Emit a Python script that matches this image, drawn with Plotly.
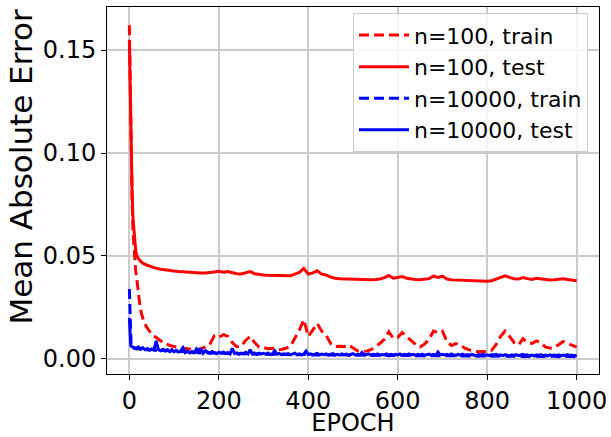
import plotly.graph_objects as go

# ---------------- data ----------------
red_train_epochs = [0, 2, 4, 6, 8, 10, 12, 14, 16, 18, 20, 23, 27, 32, 38, 45, 55, 65, 75, 90] + list(range(100, 1001, 10))
red_train = [
    0.162, 0.125, 0.098, 0.078, 0.062, 0.054, 0.047, 0.043, 0.040, 0.036,
    0.031, 0.027, 0.022, 0.0185, 0.0157, 0.0135, 0.0112, 0.0095, 0.0080, 0.0066,
    0.0060, 0.0055, 0.0052, 0.0049, 0.0046, 0.0045, 0.0050, 0.0058, 0.0072, 0.0112,
    0.0105, 0.0118, 0.0110, 0.0080, 0.0060, 0.0062, 0.0090, 0.0110, 0.0080, 0.0058,
    0.0055, 0.0050, 0.0052, 0.0044, 0.0046, 0.0052, 0.0062, 0.0100, 0.0140, 0.0190,
    0.0110, 0.0140, 0.0172, 0.0135, 0.0115, 0.0075, 0.0060, 0.0062, 0.0060, 0.0068,
    0.0055, 0.0040, 0.0036, 0.0038, 0.0045, 0.0058, 0.0075, 0.0095, 0.0132, 0.0100,
    0.0105, 0.0128, 0.0110, 0.0090, 0.0070, 0.0058, 0.0072, 0.0095, 0.0135, 0.0128,
    0.0135, 0.0085, 0.0065, 0.0075, 0.0068, 0.0052, 0.0044, 0.0040, 0.0035, 0.0036,
    0.0035, 0.0042, 0.0070, 0.0110, 0.0135, 0.0110, 0.0080, 0.0068, 0.0098, 0.0080,
    0.0075, 0.0088, 0.0080, 0.0058, 0.0052, 0.0055, 0.0068, 0.0085, 0.0075, 0.0065,
    0.0057,
]

red_test_epochs = [0, 2, 4, 6, 8, 10, 12, 14, 16, 18, 20, 25, 30] + list(range(40, 1001, 10))
red_test = [
    0.155, 0.125, 0.098, 0.082, 0.069, 0.062, 0.057, 0.053, 0.0505, 0.0495, 0.0488,
    0.0475, 0.0465,
    0.0455, 0.0446, 0.0440, 0.0436, 0.0432, 0.0429, 0.0427, 0.0425, 0.0423, 0.0421,
    0.0420, 0.0419, 0.0418, 0.0418, 0.0419, 0.0422, 0.0426, 0.0421, 0.0424, 0.0418,
    0.0414, 0.0413, 0.0418, 0.0424, 0.0414, 0.0410, 0.0408, 0.0406, 0.0405, 0.0404,
    0.0404, 0.0403, 0.0404, 0.0412, 0.0420, 0.0440, 0.0412, 0.0418, 0.0428, 0.0412,
    0.0408, 0.0398, 0.0392, 0.0390, 0.0389, 0.0390, 0.0387, 0.0386, 0.0385, 0.0385,
    0.0385, 0.0386, 0.0388, 0.0395, 0.0405, 0.0392, 0.0396, 0.0400, 0.0392, 0.0388,
    0.0386, 0.0385, 0.0386, 0.0390, 0.0402, 0.0396, 0.0402, 0.0388, 0.0384, 0.0383,
    0.0381, 0.0380, 0.0379, 0.0378, 0.0377, 0.0377, 0.0377, 0.0380, 0.0388, 0.0398,
    0.0404, 0.0396, 0.0390, 0.0388, 0.0395, 0.0390, 0.0386, 0.0392, 0.0390, 0.0385,
    0.0384, 0.0385, 0.0388, 0.0390, 0.0386, 0.0382, 0.0380,
]

blue_train_epochs = [0, 1, 2, 3, 4, 5] + list(range(10, 1001, 10))
blue_train = [
    0.0340, 0.0220, 0.0120, 0.0080, 0.0062, 0.0056,
    0.0052, 0.0048, 0.0055, 0.0044, 0.0046, 0.0042, 0.0040, 0.0043, 0.0037, 0.0039,
    0.0035, 0.0037, 0.0033, 0.0031, 0.0034, 0.0029, 0.0032, 0.0028, 0.0030, 0.0027,
    0.0029, 0.0026, 0.0028, 0.0025, 0.0027, 0.0024, 0.0026, 0.0023, 0.0025, 0.0023,
    0.0024, 0.0022, 0.0024, 0.0021, 0.0023, 0.0021, 0.0022, 0.0020, 0.0022, 0.0020,
    0.0021, 0.0019, 0.0021, 0.0019, 0.0020, 0.0018, 0.0020, 0.0018, 0.0019, 0.0018,
    0.0019, 0.0017, 0.0019, 0.0017, 0.0018, 0.0017, 0.0018, 0.0016, 0.0018, 0.0016,
    0.0017, 0.0016, 0.0017, 0.0015, 0.0017, 0.0015, 0.0016, 0.0015, 0.0016, 0.0015,
    0.0016, 0.0014, 0.0016, 0.0014, 0.0015, 0.0014, 0.0015, 0.0013, 0.0015, 0.0013,
    0.0014, 0.0013, 0.0014, 0.0013, 0.0014, 0.0012, 0.0014, 0.0012, 0.0013, 0.0012,
    0.0013, 0.0012, 0.0013, 0.0011, 0.0013, 0.0011, 0.0012, 0.0011, 0.0012, 0.0011,
]

blue_test_epochs = [0, 1, 2, 3, 4] + list(range(5, 1001, 5))
blue_test = [
    0.0200, 0.0120, 0.0085, 0.0070, 0.0064,
    0.0060, 0.0056, 0.0050, 0.0058, 0.0047, 0.0054, 0.0045, 0.0051, 0.0043, 0.0049,
    0.0044, 0.0088, 0.0045, 0.0040, 0.0047, 0.0038, 0.0045, 0.0036, 0.0046, 0.0035,
    0.0042, 0.0034, 0.0040, 0.0055, 0.0031, 0.0038, 0.0029, 0.0036, 0.0030, 0.0048,
    0.0033, 0.0052, 0.0028, 0.0040, 0.0032, 0.0027, 0.0036, 0.0030, 0.0025, 0.0033,
    0.0028, 0.0034, 0.0026, 0.0031, 0.0024, 0.0052, 0.0027, 0.0030, 0.0023, 0.0029,
    0.0026, 0.0032, 0.0024, 0.0045, 0.0025, 0.0029, 0.0022, 0.0028, 0.0024, 0.0027,
    0.0023, 0.0029, 0.0021, 0.0026, 0.0040, 0.0023, 0.0027, 0.0021, 0.0025, 0.0022,
    0.0026, 0.0020, 0.0024, 0.0028, 0.0021, 0.0025, 0.0020, 0.0024, 0.0038, 0.0022,
    0.0025, 0.0020, 0.0023, 0.0027, 0.0020, 0.0024, 0.0021, 0.0025, 0.0019, 0.0023,
    0.0026, 0.0020, 0.0023, 0.0019, 0.0025, 0.0021, 0.0024, 0.0018, 0.0022, 0.0026,
    0.0019, 0.0023, 0.0020, 0.0031, 0.0018, 0.0022, 0.0025, 0.0019, 0.0023, 0.0020,
    0.0024, 0.0018, 0.0022, 0.0020, 0.0025, 0.0019, 0.0022, 0.0018, 0.0023, 0.0020,
    0.0024, 0.0018, 0.0022, 0.0019, 0.0025, 0.0020, 0.0023, 0.0018, 0.0022, 0.0019,
    0.0023, 0.0018, 0.0021, 0.0024, 0.0019, 0.0022, 0.0018, 0.0034, 0.0021, 0.0023,
    0.0019, 0.0022, 0.0018, 0.0024, 0.0020, 0.0017, 0.0022, 0.0019, 0.0023, 0.0018,
    0.0021, 0.0017, 0.0022, 0.0019, 0.0016, 0.0021, 0.0018, 0.0022, 0.0017, 0.0020,
    0.0016, 0.0021, 0.0018, 0.0022, 0.0017, 0.0020, 0.0016, 0.0021, 0.0018, 0.0015,
    0.0020, 0.0017, 0.0021, 0.0016, 0.0019, 0.0022, 0.0017, 0.0020, 0.0016, 0.0019,
    0.0015, 0.0020, 0.0017, 0.0021, 0.0016, 0.0019, 0.0015, 0.0020, 0.0017, 0.0019,
    0.0016, 0.0020, 0.0015, 0.0019, 0.0017, 0.0021, 0.0016, 0.0019, 0.0015, 0.0018,
]

x_ticks = [0, 200, 400, 600, 800, 1000]
y_ticks = [0.00, 0.05, 0.10, 0.15]
y_tick_labels = ["0.00", "0.05", "0.10", "0.15"]

series_names = ["n=100, train", "n=100, test", "n=10000, train", "n=10000, test"]
x_title = "EPOCH"
y_title = "Mean Absolute Error"

# ---------------- figure ----------------
FONT = "DejaVu Sans"
RED = "#ff0000"
BLUE = "#0000ff"
DASH = "10px,5px"
LW = 3

fig = go.Figure()
fig.add_trace(go.Scatter(x=red_train_epochs, y=red_train, mode="lines", name=series_names[0],
                         line=dict(color=RED, width=LW, dash=DASH)))
fig.add_trace(go.Scatter(x=red_test_epochs, y=red_test, mode="lines", name=series_names[1],
                         line=dict(color=RED, width=LW)))
fig.add_trace(go.Scatter(x=blue_train_epochs, y=blue_train, mode="lines", name=series_names[2],
                         line=dict(color=BLUE, width=LW, dash=DASH)))
fig.add_trace(go.Scatter(x=blue_test_epochs, y=blue_test, mode="lines", name=series_names[3],
                         line=dict(color=BLUE, width=LW)))

axis_common = dict(
    showline=True, mirror=True, linecolor="black", linewidth=1,
    ticks="outside", ticklen=5, tickwidth=1, tickcolor="black",
    showgrid=True, gridcolor="#cbcbcb", gridwidth=1.5,
    zeroline=False, automargin=False,
    tickfont=dict(family=FONT, size=24, color="black"),
)

fig.update_layout(
    width=611, height=437,
    margin=dict(l=107, r=12, t=7, b=63),
    paper_bgcolor="white", plot_bgcolor="white",
    font=dict(family=FONT, color="black"),
    xaxis=dict(range=[-50, 1050], tickvals=x_ticks,
               title=dict(text=x_title, font=dict(family=FONT, size=24, color="black"), standoff=2),
               **axis_common),
    yaxis=dict(range=[-0.0073, 0.1709], tickvals=y_ticks, ticktext=y_tick_labels,
               **axis_common),
    legend=dict(
        x=0.9776, y=0.983, xanchor="right", yanchor="top",
        font=dict(family=FONT, size=22, color="black"),
        bgcolor="rgba(255,255,255,0.8)", bordercolor="#cccccc", borderwidth=1,
        itemwidth=50, traceorder="normal",
    ),
    showlegend=True,
)

# y-axis title placed as rotated text (matches reference position)
fig.add_annotation(
    text=y_title, textangle=-90, showarrow=False,
    xref="paper", yref="paper", x=-0.175, y=0.565,
    xanchor="center", yanchor="middle",
    font=dict(family=FONT, size=31, color="black"),
)

fig.write_html("out.html", config={"displayModeBar": False},
               post_script="document.body.style.margin='0';document.body.style.overflow='hidden';")
